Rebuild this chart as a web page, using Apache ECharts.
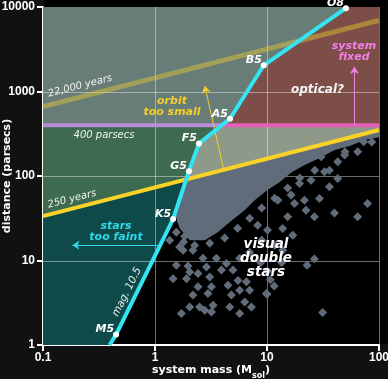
<!DOCTYPE html>
<html><head><meta charset="utf-8">
<script src="https://cdn.jsdelivr.net/npm/echarts@6/dist/echarts.min.js"></script>
<style>html,body{margin:0;padding:0;background:#111;}#c{width:388px;height:379px;}</style>
</head><body><div id="c"></div>
<script>
// ---- axes ----
const xRange = [0.1, 100];
const yRange = [1, 10000];
const gridX = [1, 10, 100];
const gridY = [10, 100, 1000];

// ---- limit lines [mass, distance] ----
const line250yr = [[0.1, 33.5], [100, 350]];
const line22000yr = [[0.1, 663], [100, 6935]];
const line400pcLeft = [[0.1, 400], [3.97, 400]];
const line400pcRight = [[3.97, 400], [100, 400]];

// ---- magnitude 10.5 limit ----
const magStart = [0.394, 1];
const spectralTypes = ['M5', 'K5', 'G5', 'F5', 'A5', 'B5', 'O8'];
const spectralMass = [0.449, 1.45, 2.01, 2.47, 4.67, 9.36, 50.7];
const spectralDist = [1.33, 30.9, 114, 243, 476, 2043, 9680];

// ---- shaded regions ----
const regionTop = [[0.1, 400], [0.1, 10000], [100, 10000], [100, 400]];
const regionOptical = [[3.97, 400], [4.67, 476], [9.36, 2043], [50.7, 9680], [52.8, 10000], [100, 10000], [100, 400]];
const regionOrbit = [[0.1, 400], [3.97, 400], [2.47, 243], [2.01, 114], [1.90, 91], [0.1, 33.5]];
const regionSmall = [[3.97, 400], [100, 400], [100, 350], [1.90, 91], [2.01, 114], [2.47, 243]];
const regionFaint = [[0.1, 33.5], [1.90, 91], [1.45, 30.9], [0.449, 1.33], [0.394, 1], [0.1, 1]];

// ---- visual double stars ----
const denseCore = [[1.90, 91], [100, 350], [100, 288], [74.5, 266], [54.7, 226], [40.2, 203], [29.6, 163], [21.7, 135], [16.6, 111], [13.0, 84.7], [10.1, 68.1], [7.77, 51.8], [6.32, 39.4], [4.87, 30.0], [3.63, 21.6], [2.78, 17.4], [2.04, 17.4], [1.66, 24.1], [1.53, 33.5]];
const starMass = [1.55,1.97,1.45,1.91,2.42,2.04,2.18,1.78,3.08,3.19,2.42,4.48,5.51,6.55,4.81,5.70,7.0,6.32,7.26,4.65,2.97,2.18,2.04,2.5,2.78,3.3,3.19,1.72,5.70,9.88,2.68,3.53,4.34,4.97,3.92,2.88,22.8,26.5,31.4,10.0,11.6,10.7,10.1,13.5,8.8,73,64.5,49.7,79,64.5,40,42.8,42.8,36.1,32.6,29.4,26.5,22.3,21.6,17.6,16.4,13.8,17.0,10.1,30.4,36.1,24.7,19.5,12.5,15.3,1.72,1.55,1.35,1.80,8.97,11.7,8.26,7.0,5.7,13.8,
  2.26,3.08,4.19,5.47,7.01,8.97,11.7,15.3,19.6,26.7,49.4,86.1,1.84,1.66];
const starDist = [8.8,8.6,6.1,6.1,7.0,7.3,13.2,13.2,6.4,4.9,4.9,5.1,5.8,5.6,3.9,4.45,4.45,3.23,2.82,2.82,4.06,3.9,2.82,2.82,2.58,2.95,2.46,2.36,2.36,4.06,10.6,10.6,9.2,7.7,7.7,8.4,8.8,10.4,2.42,3.99,5.0,5.9,7.5,9.5,9.5,254,194,194,47.3,32.9,36.6,147,93.7,74.5,112,54.3,32.9,39.4,51.8,47.3,59.4,23.9,19.9,22.9,169,117,89,81.7,51.8,32.9,28.7,21.6,17.4,16.5,17.4,15.2,26.2,12.5,10.6,13.2,
  15.2,16.0,18.4,24.1,31.7,41.7,54.7,71.9,94.4,117,177,252,19.4,14.4];

// ---- arrows ----
const arrowOrbit = [[4.1, 120], [2.78, 1162]];
const arrowFixed = [[60.3, 400], [60.3, 1968]];
const arrowFaint = [[1.14, 15.2], [0.183, 15.2]];

const regions = [
  { pts: regionTop, color: '#687c78' },
  { pts: regionOptical, color: '#7d4e48' },
  { pts: regionOrbit, color: '#3e6a50' },
  { pts: regionSmall, color: '#8f998a' },
  { pts: regionFaint, color: '#0f4a4a' }
];

const chart = echarts.init(document.getElementById('c'), null, { renderer: 'canvas' });
const fmt = v => String(Math.round(v * 1000) / 1000);
const tickFont = { color: '#fff', fontWeight: 'bold', fontSize: 12, fontFamily: 'Liberation Sans, Arial' };
const VF = '"DejaVu Sans"';

function polyRender(list) {
  return function (params, api) {
    const r = list[params.dataIndex];
    return { type: 'polygon', shape: { points: r.pts.map(p => api.coord(p)) }, style: { fill: r.color } };
  };
}
function simpleLine(data, color, width, z) {
  return { type: 'line', data: data, symbol: 'none', silent: true, z: z, lineStyle: { color: color, width: width }, animation: false };
}
function arrow(coords, color) {
  return { type: 'lines', coordinateSystem: 'cartesian2d', z: 6, silent: true, symbol: ['none', 'arrow'], symbolSize: 7,
    lineStyle: { color: color, width: 1, opacity: 1 }, data: [{ coords: coords }], animation: false };
}
function txt(text, x, y, font, color, rot, lh) {
  return { type: 'text', x: x, y: y, rotation: rot || 0, z: 100, silent: true,
    style: { text: text, font: font, fill: color, align: 'center', verticalAlign: 'middle', textAlign: 'center', textVerticalAlign: 'middle', lineHeight: lh } };
}
const rotYears = Math.atan(0.256);
const rotMag = 63.6 * Math.PI / 180;

chart.setOption({
  backgroundColor: '#111',
  animation: false,
  grid: { left: 43, top: 7, right: 9, bottom: 34, containLabel: false, outerBoundsMode: 'none' },
  xAxis: {
    type: 'log', logBase: 10, min: xRange[0], max: xRange[1],
    name: '{n|system mass (M}{s|sol}{n|)}', nameLocation: 'middle', nameGap: 20, nameMoveOverlap: false,
    nameTextStyle: { rich: {
      n: { color: '#fff', fontWeight: 'bold', fontSize: 11, fontFamily: VF, lineHeight: 15, verticalAlign: 'top' },
      s: { color: '#fff', fontWeight: 'bold', fontSize: 8, fontFamily: VF, lineHeight: 8, verticalAlign: 'bottom' } } },
    axisLine: { show: true, onZero: false, lineStyle: { color: '#fff', width: 2 } },
    axisTick: { show: true, length: 6, lineStyle: { color: '#fff', width: 2 } },
    axisLabel: Object.assign({ margin: 7, formatter: fmt }, tickFont),
    splitLine: { show: false }, minorTick: { show: false }
  },
  yAxis: {
    type: 'log', logBase: 10, min: yRange[0], max: yRange[1],
    name: 'distance (parsecs)', nameLocation: 'middle', nameGap: 30, nameMoveOverlap: false,
    nameTextStyle: { color: '#fff', fontWeight: 'bold', fontSize: 11, fontFamily: VF },
    axisLine: { show: true, onZero: false, lineStyle: { color: '#fff', width: 2 } },
    axisTick: { show: true, length: 6, lineStyle: { color: '#fff', width: 2 } },
    axisLabel: Object.assign({ margin: 8, formatter: fmt }, tickFont),
    splitLine: { show: false }
  },
  graphic: {
    elements: [
      { type: 'rect', z: -100, silent: true, shape: { x: 44, y: 0, width: 344, height: 344 }, style: { fill: '#000' } },
      txt('22,000 years', 80, 86, 'italic 10px ' + VF, '#eef2f0', rotYears),
      txt('400 parsecs', 104, 135.5, 'italic 10px ' + VF, '#eef2f0', 0),
      txt('250 years', 72, 199, 'italic 10px ' + VF, '#eef2f0', rotYears),
      txt('orbit\ntoo small', 172, 106.5, 'italic bold 11px ' + VF, '#f5cf2a', 0, 11),
      txt('optical?', 317.5, 90, 'italic bold 12px ' + VF, '#f4f4f4', 0),
      txt('system\nfixed', 354, 51.5, 'italic bold 11px ' + VF, '#f27fe6', 0, 11),
      txt('stars\ntoo faint', 116, 231.5, 'italic bold 11px ' + VF, '#2fd9e8', 0, 10.5),
      txt('visual\ndouble\nstars', 266, 258.5, 'italic bold 13.5px ' + VF, '#ffffff', 0, 13.7),
      txt('mag. 10.5', 127, 292, 'italic 10.5px ' + VF, '#e8eeee', rotMag)
    ]
  },
  series: [
    { type: 'custom', coordinateSystem: 'cartesian2d', z: 1, silent: true, clip: false,
      data: regions.map(r => r.pts[0]), renderItem: polyRender(regions), animation: false },
    { type: 'custom', coordinateSystem: 'cartesian2d', z: 2, silent: true, clip: false,
      data: gridX.map(v => [v, yRange[0]]),
      renderItem: (p, api) => { const a = api.coord([api.value(0), yRange[0]]), b = api.coord([api.value(0), yRange[1]]);
        const x = Math.round(a[0]) + 0.5;
        return { type: 'line', shape: { x1: x, y1: a[1], x2: x, y2: b[1] }, style: { stroke: 'rgba(255,255,255,0.42)', lineWidth: 1 } }; } },
    { type: 'custom', coordinateSystem: 'cartesian2d', z: 2, silent: true, clip: false,
      data: gridY.map(v => [xRange[0], v]),
      renderItem: (p, api) => { const a = api.coord([xRange[0], api.value(1)]), b = api.coord([xRange[1], api.value(1)]);
        const y = Math.round(a[1]) + 0.5;
        return { type: 'line', shape: { x1: a[0], y1: y, x2: b[0], y2: y }, style: { stroke: 'rgba(255,255,255,0.42)', lineWidth: 1 } }; } },
    { type: 'custom', coordinateSystem: 'cartesian2d', z: 3, silent: true, clip: false,
      data: [denseCore[0]], renderItem: polyRender([{ pts: denseCore, color: '#606c7a' }]), animation: false },
    { type: 'scatter', z: 3, silent: true, symbol: 'diamond', symbolSize: 9,
      itemStyle: { color: '#606c7a', opacity: 1 }, data: starMass.map((m, i) => [m, starDist[i]]), animation: false },
    simpleLine(line22000yr, 'rgba(232,204,48,0.45)', 5, 4),
    simpleLine(line250yr, '#fad228', 4, 5),
    simpleLine(line400pcLeft, '#b78ed6', 4, 5),
    simpleLine(line400pcRight, '#e65fb6', 4, 5),
    arrow(arrowOrbit, '#f5cf2a'),
    arrow(arrowFixed, '#f27fe6'),
    arrow(arrowFaint, '#2fd9e8'),
    simpleLine([magStart].concat(spectralMass.map((m, i) => [m, spectralDist[i]])), '#33e4f2', 4, 7),
    { type: 'scatter', z: 8, silent: true, symbol: 'circle', symbolSize: 6, itemStyle: { color: '#fff', opacity: 1 },
      data: spectralTypes.map((n, i) => ({ name: n, value: [spectralMass[i], spectralDist[i]] })),
      label: { show: true, formatter: '{b}', position: 'left', distance: 0, offset: [1, -5], color: '#fff',
        fontStyle: 'italic', fontWeight: 'bold', fontSize: 11, fontFamily: VF }, animation: false }
  ]
});
</script></body></html>
